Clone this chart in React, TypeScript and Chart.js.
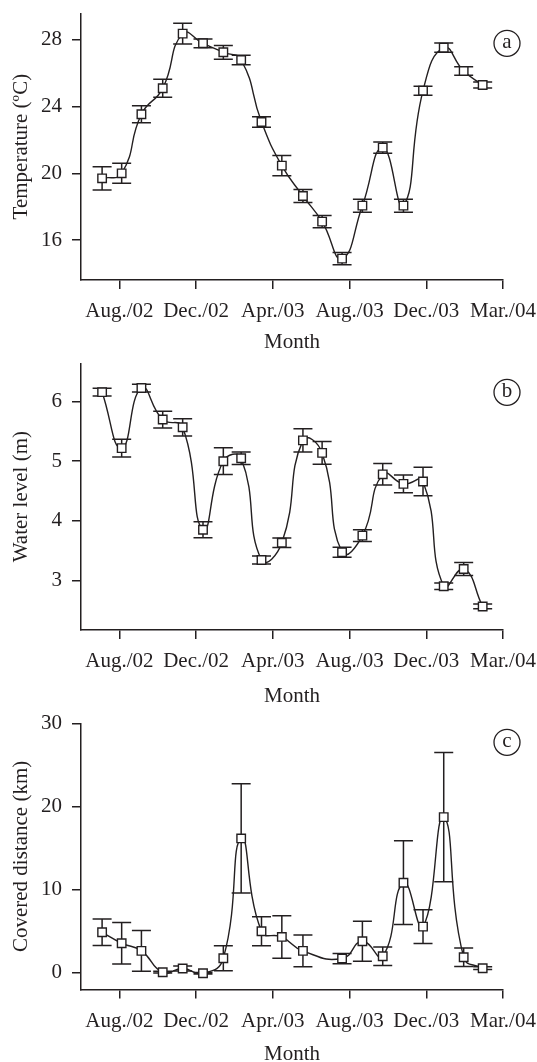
import React, { useEffect, useRef } from 'react';
import { Chart, registerables } from 'chart.js';

Chart.register(...registerables);

// ---- data ----
const sampleMonths = [-0.9, 0.12, 1.15, 2.26, 3.3, 4.36, 5.42, 6.35, 7.41, 8.47, 9.57, 10.57, 11.61, 12.67, 13.73, 14.81, 15.83, 16.91, 17.95, 18.94];
const distanceMonths = [-0.9, 0.12, 1.15, 2.26, 3.3, 4.36, 5.42, 6.35, 7.41, 8.47, 9.57, 11.61, 12.67, 13.73, 14.81, 15.83, 16.91, 17.95, 18.94];

const xTickValues = [0, 4, 8, 12, 16, 20];
const xTickLabels = ['Aug./02', 'Dec./02', 'Apr./03', 'Aug./03', 'Dec./03', 'Mar./04'];

const temperature = [19.7, 20.0, 23.54, 25.1, 28.38, 27.8, 27.26, 26.8, 23.08, 20.46, 18.64, 17.1, 14.88, 18.06, 21.54, 18.06, 24.96, 27.54, 26.14, 25.3];
const temperatureErr = [0.7, 0.6, 0.51, 0.54, 0.62, 0.26, 0.41, 0.29, 0.32, 0.61, 0.39, 0.37, 0.37, 0.39, 0.34, 0.39, 0.27, 0.28, 0.25, 0.18];
const temperatureTicks = [16, 20, 24, 28];

const waterLevel = [6.16, 5.22, 6.23, 5.7, 5.57, 3.85, 5.0, 5.05, 3.34, 3.63, 5.35, 5.14, 3.47, 3.75, 4.78, 4.62, 4.66, 2.9, 3.19, 2.56];
const waterLevelErr = [0.065, 0.15, 0.065, 0.14, 0.145, 0.135, 0.225, 0.105, 0.067, 0.08, 0.195, 0.19, 0.085, 0.1, 0.18, 0.15, 0.24, 0.056, 0.11, 0.04];
const waterLevelTicks = [3, 4, 5, 6];

const distance = [4.88, 3.56, 2.64, 0.08, 0.52, -0.05, 1.76, 16.16, 5.0, 4.32, 2.64, 1.72, 3.8, 2.0, 10.84, 5.56, 18.72, 1.88, 0.56];
const distanceErr = [1.6, 2.5, 2.44, 0.1, 0.3, 0.1, 1.5, 6.56, 1.74, 2.56, 1.92, 0.62, 2.4, 1.1, 5.04, 2.04, 7.78, 1.12, 0.16];
const distanceTicks = [0, 10, 20, 30];

// ---- styles ----
const INK = '#231f20';
const FONT = '"Liberation Serif", "Times New Roman", serif';
const FONT_SIZE = 21;

const panelPlugin = {
  id: 'panelExtras',
  beforeDatasetsDraw(chart: any) {
    const { ctx, scales } = chart;
    const x = scales.x;
    const y = scales.y;
    chart.data.datasets.forEach((ds: any) => {
      const err = ds.errorBars;
      if (!err) return;
      ctx.save();
      ctx.strokeStyle = INK;
      ctx.lineWidth = 1.5;
      const cap = 9.5;
      ds.data.forEach((p: any, i: number) => {
        const px = x.getPixelForValue(p.x);
        const top = y.getPixelForValue(p.y + err[i]);
        const bot = y.getPixelForValue(p.y - err[i]);
        ctx.beginPath();
        ctx.moveTo(px, top);
        ctx.lineTo(px, bot);
        ctx.moveTo(px - cap, top);
        ctx.lineTo(px + cap, top);
        ctx.moveTo(px - cap, bot);
        ctx.lineTo(px + cap, bot);
        ctx.stroke();
      });
      ctx.restore();
    });
  },
  afterDraw(chart: any, _args: any, opts: any) {
    if (!opts || !opts.letter) return;
    const { ctx, chartArea } = chart;
    const cx = chartArea.right + opts.dx;
    const cy = chartArea.top + opts.dy;
    ctx.save();
    ctx.strokeStyle = INK;
    ctx.lineWidth = 1.3;
    ctx.beginPath();
    ctx.arc(cx, cy, 13, 0, Math.PI * 2);
    ctx.stroke();
    ctx.fillStyle = INK;
    ctx.font = `${FONT_SIZE}px ${FONT}`;
    ctx.textAlign = 'center';
    ctx.textBaseline = 'middle';
    ctx.fillText(opts.letter, cx, cy - 1);
    ctx.restore();
  },
};

type PanelProps = {
  top: number;
  height: number;
  padTop: number;
  axisHeight: number;
  titleBottomPad: number;
  xs: number[];
  ys: number[];
  errs: number[];
  yTicks: number[];
  yMin: number;
  yMax: number;
  yTitle: string;
  letter: string;
  letterDy: number;
};

function Panel(props: PanelProps) {
  const ref = useRef<HTMLCanvasElement | null>(null);
  useEffect(() => {
    if (!ref.current) return;
    const data = props.xs.map((xv, i) => ({ x: xv, y: props.ys[i] }));
    const chart = new Chart(ref.current, {
      type: 'line',
      data: {
        datasets: [
          {
            data,
            errorBars: props.errs,
            borderColor: INK,
            borderWidth: 1.4,
            tension: 0.5,
            fill: false,
            clip: false,
            pointStyle: 'rect',
            pointRadius: 6,
            pointBackgroundColor: '#ffffff',
            pointBorderColor: INK,
            pointBorderWidth: 1.4,
          } as any,
        ],
      },
      options: {
        animation: false,
        responsive: false,
        devicePixelRatio: 1,
        layout: { padding: { top: props.padTop, right: 34, left: 0, bottom: 0 } },
        plugins: {
          legend: { display: false },
          tooltip: { enabled: false },
          panelExtras: { letter: props.letter, dx: 4, dy: props.letterDy },
        } as any,
        scales: {
          x: {
            type: 'linear',
            min: -2,
            max: 20,
            afterBuildTicks: (scale: any) => {
              scale.ticks = xTickValues.map((v) => ({ value: v }));
            },
            afterFit: (scale: any) => {
              scale.height = props.axisHeight;
              scale.paddingLeft = 0;
              scale.paddingRight = 0;
            },
            border: { display: true, color: INK, width: 1.5 },
            grid: { drawOnChartArea: false, drawTicks: true, tickLength: 9, color: INK, lineWidth: 1.5 },
            ticks: {
              autoSkip: false,
              maxRotation: 0,
              minRotation: 0,
              padding: 10,
              color: INK,
              font: { family: FONT, size: FONT_SIZE },
              callback: (v: any) => xTickLabels[xTickValues.indexOf(Number(v))] ?? '',
            },
            title: {
              display: true,
              text: 'Month',
              color: INK,
              font: { family: FONT, size: FONT_SIZE },
              padding: { top: 0, bottom: props.titleBottomPad },
            },
          },
          y: {
            type: 'linear',
            min: props.yMin,
            max: props.yMax,
            afterBuildTicks: (scale: any) => {
              scale.ticks = props.yTicks.map((v) => ({ value: v }));
            },
            afterFit: (scale: any) => {
              scale.width = 81;
              scale.paddingTop = 0;
              scale.paddingBottom = 0;
            },
            border: { display: true, color: INK, width: 1.5 },
            grid: { drawOnChartArea: false, drawTicks: true, tickLength: 9, color: INK, lineWidth: 1.5 },
            ticks: {
              padding: 10,
              color: INK,
              font: { family: FONT, size: FONT_SIZE },
              callback: (v: any) => String(v),
            },
            title: {
              display: true,
              text: props.yTitle,
              color: INK,
              font: { family: FONT, size: FONT_SIZE },
              padding: { top: 8.6, bottom: 0 },
            },
          },
        },
      } as any,
      plugins: [panelPlugin as any],
    });
    return () => chart.destroy();
  }, []);
  return (
    <canvas
      ref={ref}
      width={537}
      height={props.height}
      style={{ position: 'absolute', left: 0, top: props.top, width: 537, height: props.height, display: 'block' }}
    />
  );
}

export default function App() {
  return (
    <div style={{ position: 'absolute', left: 0, top: 0, width: 537, height: 1062, background: '#ffffff', overflow: 'hidden' }}>
      <Panel
        top={0}
        height={352}
        padTop={13.3}
        axisHeight={72}
        titleBottomPad={-2.6}
        xs={sampleMonths}
        ys={temperature}
        errs={temperatureErr}
        yTicks={temperatureTicks}
        yMin={13.6}
        yMax={29.6}
        yTitle="Temperature (ºC)"
        letter="a"
        letterDy={30}
      />
      <Panel
        top={352}
        height={357}
        padTop={11.3}
        axisHeight={79}
        titleBottomPad={0.4}
        xs={sampleMonths}
        ys={waterLevel}
        errs={waterLevelErr}
        yTicks={waterLevelTicks}
        yMin={2.165}
        yMax={6.645}
        yTitle="Water level (m)"
        letter="b"
        letterDy={29}
      />
      <Panel
        top={709}
        height={353}
        padTop={14.3}
        axisHeight={72.5}
        titleBottomPad={-4.6}
        xs={distanceMonths}
        ys={distance}
        errs={distanceErr}
        yTicks={distanceTicks}
        yMin={-2}
        yMax={30}
        yTitle="Covered distance (km)"
        letter="c"
        letterDy={19}
      />
    </div>
  );
}
